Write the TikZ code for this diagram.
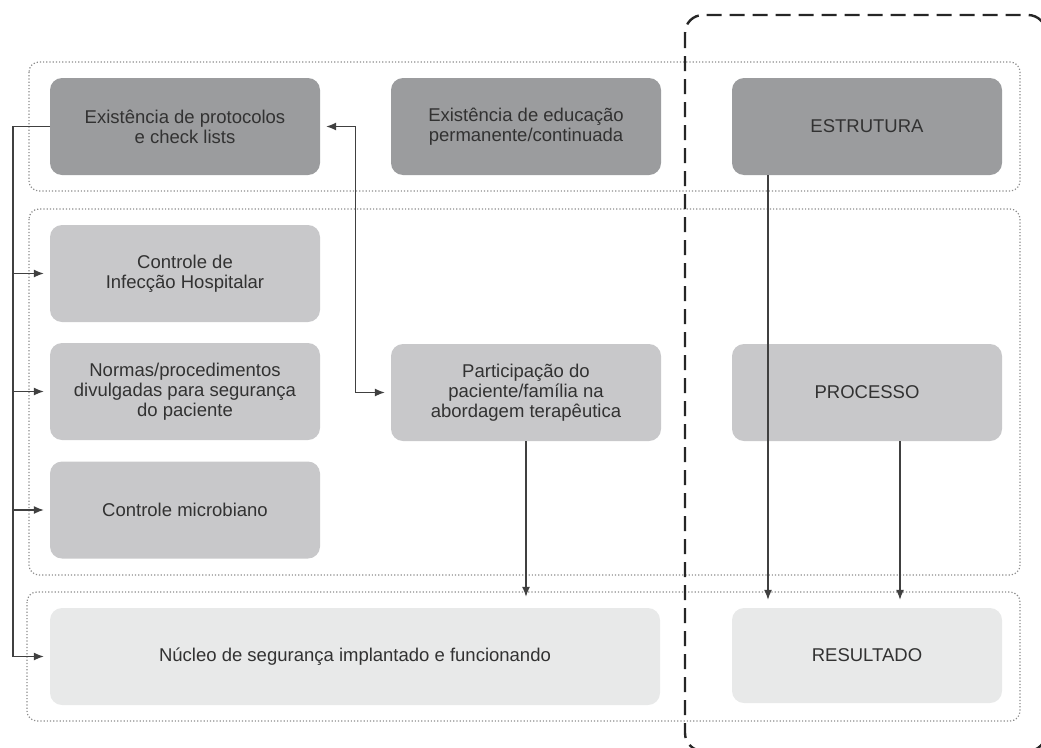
\documentclass[tikz,border=0pt]{standalone}
\usepackage{fontspec}
\setmainfont{Liberation Sans}
\usetikzlibrary{arrows.meta}
\definecolor{boxdark}{RGB}{155,156,158}
\definecolor{boxmid}{RGB}{200,200,202}
\definecolor{boxlight}{RGB}{232,233,233}
\definecolor{inkgray}{RGB}{50,50,50}
\tikzset{
	box/.style={rounded corners=12pt, minimum width=270pt, minimum height=97pt, inner sep=0pt, align=center, text=inkgray, font=\fontsize{18.5}{20}\selectfont},
	band/.style={draw=black!45, dotted, line width=1.2pt, rounded corners=10pt},
	wire/.style={draw=black!75, line width=1.3pt},
	tip/.style={-{Latex[length=10pt,width=8pt]}},
	frame/.style={draw=black!85, line width=2.4pt, dash pattern=on 15pt off 8pt, rounded corners=18pt}
}

\begin{document}
\begin{tikzpicture}[x=1pt, y=-1pt]
		%%%%% START %%%%%
		
		\useasboundingbox (0, 0) rectangle (1041, 747);
		\clip (0, 0) rectangle (1041, 747);
		
		\draw[band] (29, 62) rectangle (1020, 191);
		\draw[band] (29, 209) rectangle (1020, 575);
		\draw[band] (27, 592) rectangle (1020, 721);
		
		\node[box, fill=boxdark] (prot) at (185, 126.5) {Existência de protocolos\\ e check lists};
		\node[box, fill=boxdark] (educ) at (526, 126.5) {Existência de educação\\ permanente/continuada};
		\node[box, fill=boxdark] (estr) at (867, 126.5) {ESTRUTURA};
		
		\node[box, fill=boxmid] (infec) at (185, 273.5) {Controle de\\ Infecção Hospitalar};
		\node[box, fill=boxmid] (normas) at (185, 391.5) {Normas/procedimentos\\ divulgadas para segurança\\ do paciente};
		\node[box, fill=boxmid] (micro) at (185, 510) {Controle microbiano};
		\node[box, fill=boxmid] (partic) at (526, 392.5) {Participação do\\ paciente/família na\\ abordagem terapêutica};
		\node[box, fill=boxmid] (proc) at (867, 392.5) {PROCESSO};
		
		\node[box, fill=boxlight, minimum width=610pt] (nucleo) at (355, 656.5) {Núcleo de segurança implantado e funcionando};
		\node[box, fill=boxlight, minimum height=95pt] (result) at (867, 655.5) {RESULTADO};
		
		\coordinate (bus) at (13, 0);
		\draw[wire, tip] (prot.west) -- (prot.west -| bus) |- ([xshift=-6pt]nucleo.west);
		\foreach \n in {infec, normas, micro}
			\draw[wire, tip] (bus |- \n.west) -- ([xshift=-6pt]\n.west);
		
		\draw[wire, {Latex[length=10pt,width=8pt]}-{Latex[length=10pt,width=8pt]}] ([xshift=6pt]prot.east) -- ++(29, 0) |- ([xshift=-6pt]partic.west);
		\draw[wire, tip] (partic.south) -- ([yshift=11pt]partic.south |- nucleo.north);
		
		\draw[wire, tip] ([xshift=-99pt]estr.south) -- ([xshift=-99pt, yshift=8pt]result.north);
		\draw[wire, tip] ([xshift=33pt]proc.south) -- ([xshift=33pt, yshift=8pt]result.north);
		
		\draw[frame] (685, 15) rectangle (1046, 751);
		
		%%%%% END %%%%%
	\end{tikzpicture}
\end{document}
